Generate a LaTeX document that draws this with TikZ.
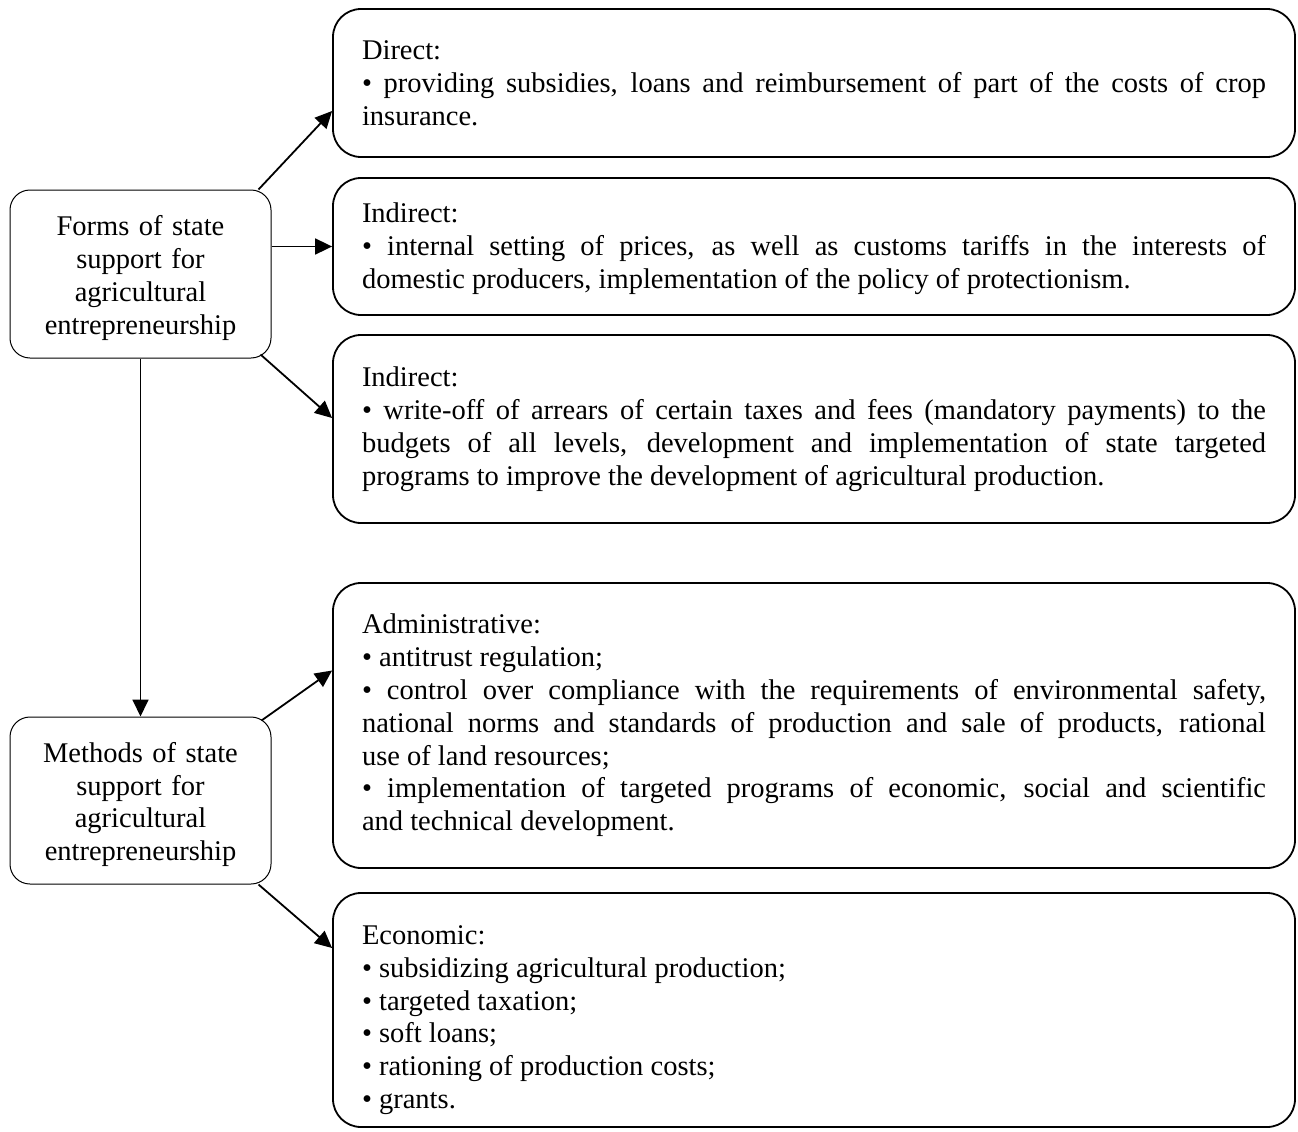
\documentclass[tikz,border=0pt]{standalone}
\usepackage{fontspec}
\setmainfont{Liberation Serif}
\usetikzlibrary{arrows.meta,calc}
\begin{document}
\begin{tikzpicture}[x=1pt,y=-1pt,
  txt/.style={font=\fontsize{28.5}{32.8}\selectfont},
  lbox/.style={txt,draw,line width=1pt,rounded corners=20pt,text width=250pt,align=center,
    minimum width=261pt,inner xsep=0pt,inner ysep=4pt},
  rbox/.style={txt,draw,line width=1.8pt,rounded corners=28pt,text width=904pt,align=justify,
    inner xsep=29pt,inner ysep=4pt},
  arr/.style={line width=1.8pt,-{Triangle[length=17pt,width=16pt]}}
]
\useasboundingbox (0,0) rectangle (1298,1132);
\tolerance=10000 \hyphenpenalty=10000 \emergencystretch=20pt

\node[lbox,minimum height=168pt] (forms) at (140.5,274) {\rule{0pt}{28pt}Forms of state\\ support for\\ agricultural\\ entrepreneurship};
\node[lbox,minimum height=167pt] (methods) at (140.5,800.5) {\rule{0pt}{28pt}Methods of state\\ support for\\ agricultural\\ entrepreneurship};

\node[rbox,minimum height=148pt] (direct) at (814,83) {Direct:\\
• providing subsidies, loans and reimbursement of part of the costs of crop\linebreak insurance.};
\node[rbox,minimum height=137pt] (ind1) at (814,246.5) {\rule{0pt}{24pt}Indirect:\\
• internal setting of prices, as well as customs tariffs in the interests of\linebreak domestic producers, implementation of the policy of protectionism.};
\node[rbox,minimum height=188pt] (ind2) at (814,429) {Indirect:\\
• write-off of arrears of certain taxes and fees (mandatory payments) to the\linebreak budgets of all levels, development and implementation of state targeted\linebreak programs to improve the development of agricultural production.};
\node[rbox,minimum height=285pt] (admin) at (814,725.5) {Administrative:\\
• antitrust regulation;\\
• control over compliance with the requirements of environmental safety,\linebreak national norms and standards of production and sale of products, rational\linebreak use of land resources;\\
• implementation of targeted programs of economic, social and scientific\linebreak and technical development.};
\node[rbox,minimum height=234pt] (econ) at (814,1010) {\rule{0pt}{39pt}Economic:\\
• subsidizing agricultural production;\\
• targeted taxation;\\
• soft loans;\\
• rationing of production costs;\\
• grants.};

\draw[arr] ($(forms.north east)+(-13,0)$) -- ($(direct.west)+(0,28)$);
\draw[arr] (forms.east |- ind1.west) -- (ind1.west);
\draw[arr] ($(forms.south east)+(-11,-4)$) -- ($(ind2.west)+(0,-11)$);
\draw[arr] (forms.south) -- (methods.north);
\draw[arr] ($(methods.north east)+(-10,4)$) -- ($(admin.west)+(0,-55)$);
\draw[arr] ($(methods.south east)+(-13,0)$) -- ($(econ.west)+(0,-62)$);
\end{tikzpicture}
\end{document}
